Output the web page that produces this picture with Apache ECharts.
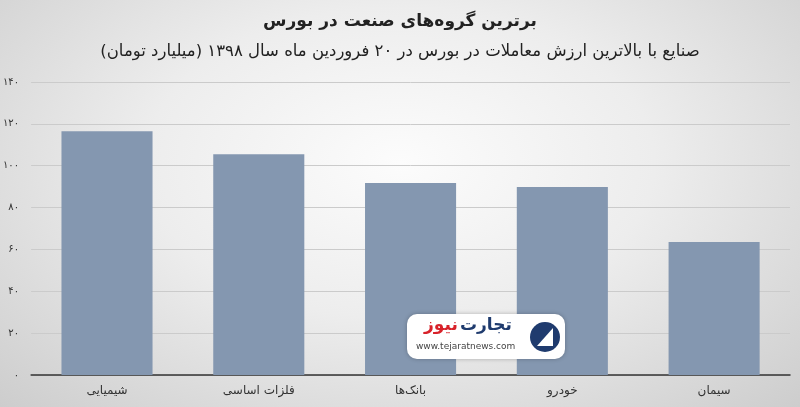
<!DOCTYPE html>
<html><head><meta charset="utf-8">
<script src="https://cdn.jsdelivr.net/npm/echarts@6/dist/echarts.min.js"></script>
<style>html,body{margin:0;padding:0;}#c{width:800px;height:407px;background:radial-gradient(ellipse at 50% 40%, #fcfcfc 0%, #ededed 45%, #cdcdcd 100%);}</style>
</head><body><div id="c"></div>
<script>
const categories = ['شیمیایی', 'فلزات اساسی', 'بانک‌ها', 'خودرو', 'سیمان'];
const values = [116.5, 105.5, 91.8, 89.8, 63.5];
const tickLabels = {0:'۰',20:'۲۰',40:'۴۰',60:'۶۰',80:'۸۰',100:'۱۰۰',120:'۱۲۰',140:'۱۴۰'};
const titleText = 'برترین گروه‌های صنعت در بورس';
const subtitleText = 'صنایع با بالاترین ارزش معاملات در بورس در ۲۰ فروردین ماه سال ۱۳۹۸ (میلیارد تومان)';

const chart = echarts.init(document.getElementById('c'), null, {renderer:'canvas'});
const font = '"DejaVu Sans", "Noto Sans", sans-serif';
chart.setOption({
  backgroundColor: 'transparent',
  animation: false,
  title: [
    {text: titleText, left: 'center', top: 8, textStyle:{fontFamily:font, fontSize:17, fontWeight:'bold', color:'#222'}},
    {text: subtitleText, left: 'center', top: 38, textStyle:{fontFamily:font, fontSize:16.5, fontWeight:'normal', color:'#222'}}
  ],
  grid: {left: 30, right: 10, top: 82, bottom: 32},
  xAxis: {
    type: 'category', data: categories,
    axisLine: {lineStyle:{color:'#333', width:1.5}},
    axisTick: {show:false},
    axisLabel: {fontFamily:font, fontSize:12, color:'#333', margin:10}
  },
  yAxis: {
    type: 'value', min: 0, max: 140, interval: 20,
    axisLine: {show:false}, axisTick:{show:false},
    splitLine: {lineStyle:{color:'#cbcbcb', width:1}},
    axisLabel: {fontFamily:font, fontSize:10, color:'#333', margin:12, formatter: v => tickLabels[v]}
  },
  series: [{
    type: 'bar', data: values, barWidth: '60%',
    itemStyle: {color: '#8497b0'}
  }],
  graphic: [
    {type:'rect', z:100, left:407, top:314, shape:{width:158,height:45,r:10}, style:{fill:'#fff', shadowBlur:4, shadowColor:'rgba(0,0,0,0.25)'}},
    {type:'text', z:101, left:460, top:317, style:{text:'تجارت', fill:'#1f3b6e', font:'bold 17px '+font}},
    {type:'text', z:101, left:424, top:317, style:{text:'نیوز', fill:'#d8222a', font:'bold 17px '+font}},
    {type:'text', z:101, left:416, top:342, style:{text:'www.tejaratnews.com', fill:'#444', font:'9px '+font}},
    {type:'circle', z:101, shape:{cx:545, cy:337, r:15}, style:{fill:'#1f3b6e'}},
    {type:'polygon', z:102, shape:{points:[[537,346],[553,328],[553,346]]}, style:{fill:'#fff'}}
  ]
});
</script></body></html>
